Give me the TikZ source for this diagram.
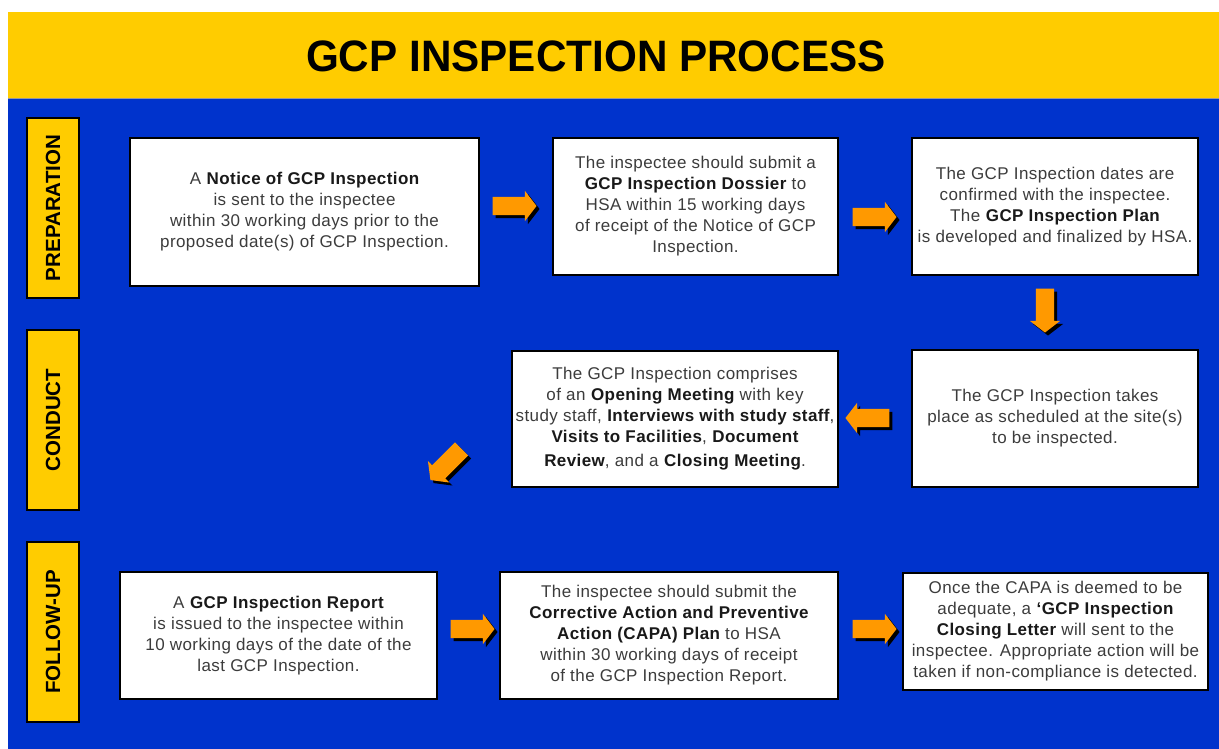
\documentclass[tikz,border=0pt]{standalone}
\usepackage{fontspec}
\setmainfont{Liberation Sans}
\newfontfamily\boxfont[LetterSpace=2.5]{Liberation Sans}
\usetikzlibrary{shapes.arrows,shadows}
\definecolor{bgblue}{RGB}{0,51,204}
\definecolor{hdyellow}{RGB}{255,204,0}
\definecolor{arrorange}{RGB}{255,153,0}
\definecolor{txtgray}{RGB}{60,60,60}
\definecolor{txtdark}{RGB}{25,25,25}
\newcommand{\hb}[1]{\textbf{\color{txtdark}#1}}
\begin{document}
\begin{tikzpicture}[x=1pt,y=-1pt,
  textbox/.style={draw=black, line width=1.3pt, fill=white, inner sep=0pt,
    align=center, text=txtgray, font=\boxfont\fontsize{17}{21}\selectfont},
  sidebox/.style={draw=black, line width=1.3pt, fill=hdyellow, inner sep=0pt,
    rotate=90, minimum width=180pt, minimum height=52pt,
    font=\bfseries\fontsize{20.5}{20.5}\selectfont, text=black},
  arrowshape/.style={single arrow, fill=arrorange, draw=none, inner sep=9pt,
    minimum height=44pt, single arrow head extend=6pt,
    single arrow tip angle=105, single arrow head indent=0pt},
  barrow/.style={arrowshape,
    drop shadow={shadow xshift=3pt, shadow yshift=-3pt, fill=black, opacity=1}}
]
\useasboundingbox (0,0) rectangle (1219,749);
\fill[white] (0,0) rectangle (1219,749);
\fill[hdyellow] (8,12) rectangle (1219,98);
\fill[bgblue] (8,98) rectangle (1219,749);
\draw[black!40, line width=0.8pt] (8,98) -- (1219,98);

\node[font=\bfseries\fontsize{44}{44}\selectfont, text=black] (title) at (596,56)
  {\scalebox{0.96}[1]{GCP INSPECTION PROCESS}};

% side labels
\node[sidebox] (s1) at (53,208) {PREPARATION};
\node[sidebox] (s2) at (53,420) {CONDUCT};
\node[sidebox] (s3) at (53,632) {FOLLOW-UP};

% boxes
\node[textbox, minimum width=349pt, minimum height=148pt] (b1) at (304.5,212)
  {A \hb{Notice of GCP Inspection}\\ is sent to the inspectee\\ within 30 working days prior to the\\ proposed date(s) of GCP Inspection.};
\node[textbox, minimum width=285pt, minimum height=137pt] (b2) at (695.5,206.5)
  {The inspectee should submit a\\ \hb{GCP Inspection Dossier} to\\ HSA within 15 working days\\ of receipt of the Notice of GCP\\ Inspection.};
\node[textbox, minimum width=286pt, minimum height=137pt] (b3) at (1055,206.5)
  {The GCP Inspection dates are\\ confirmed with the inspectee.\\ The \hb{GCP Inspection Plan}\\ is developed and finalized by HSA.};
\node[textbox, minimum width=286pt, minimum height=137pt] (b4) at (1055,418.5)
  {The GCP Inspection takes\\ place as scheduled at the site(s)\\ to be inspected.};
\node[textbox, minimum width=326pt, minimum height=136pt] (b5) at (675,419)
  {The GCP Inspection comprises\\ of an \hb{Opening Meeting} with key\\ study staff, \hb{Interviews with study staff},\\ \hb{Visits to Facilities}, \hb{Document}\\[3pt] \hb{Review}, and a \hb{Closing Meeting}.};
\node[textbox, minimum width=317pt, minimum height=127pt] (b6) at (278.5,635.5)
  {A \hb{GCP Inspection Report}\\ is issued to the inspectee within\\ 10 working days of the date of the\\ last GCP Inspection.};
\node[textbox, minimum width=338pt, minimum height=127pt] (b7) at (669,635.5)
  {The inspectee should submit the\\ \hb{Corrective Action and Preventive}\\ \hb{Action (CAPA) Plan} to HSA\\ within 30 working days of receipt\\ of the GCP Inspection Report.};
\node[textbox, minimum width=305pt, minimum height=117pt] (b8) at (1055.5,631.5)
  {Once the CAPA is deemed to be\\ adequate, a \hb{‘GCP Inspection}\\ \hb{Closing Letter} will sent to the\\ inspectee. Appropriate action will be\\ taken if non-compliance is detected.};

% block arrows
\node[barrow] (a1) at (511,206) {};
\node[barrow] (a2) at (871,217) {};
\node[barrow, shape border rotate=270] (a3) at (1045,307) {};
\node[barrow, shape border rotate=180] (a4) at (871,418) {};
\node[arrowshape, fill=black, rotate=225] (a5s) at (451.5,465) {};
\node[arrowshape, rotate=225] (a5) at (448.5,462) {};
\node[barrow] (a6) at (469,629) {};
\node[barrow] (a7) at (871,629) {};
\end{tikzpicture}
\end{document}
